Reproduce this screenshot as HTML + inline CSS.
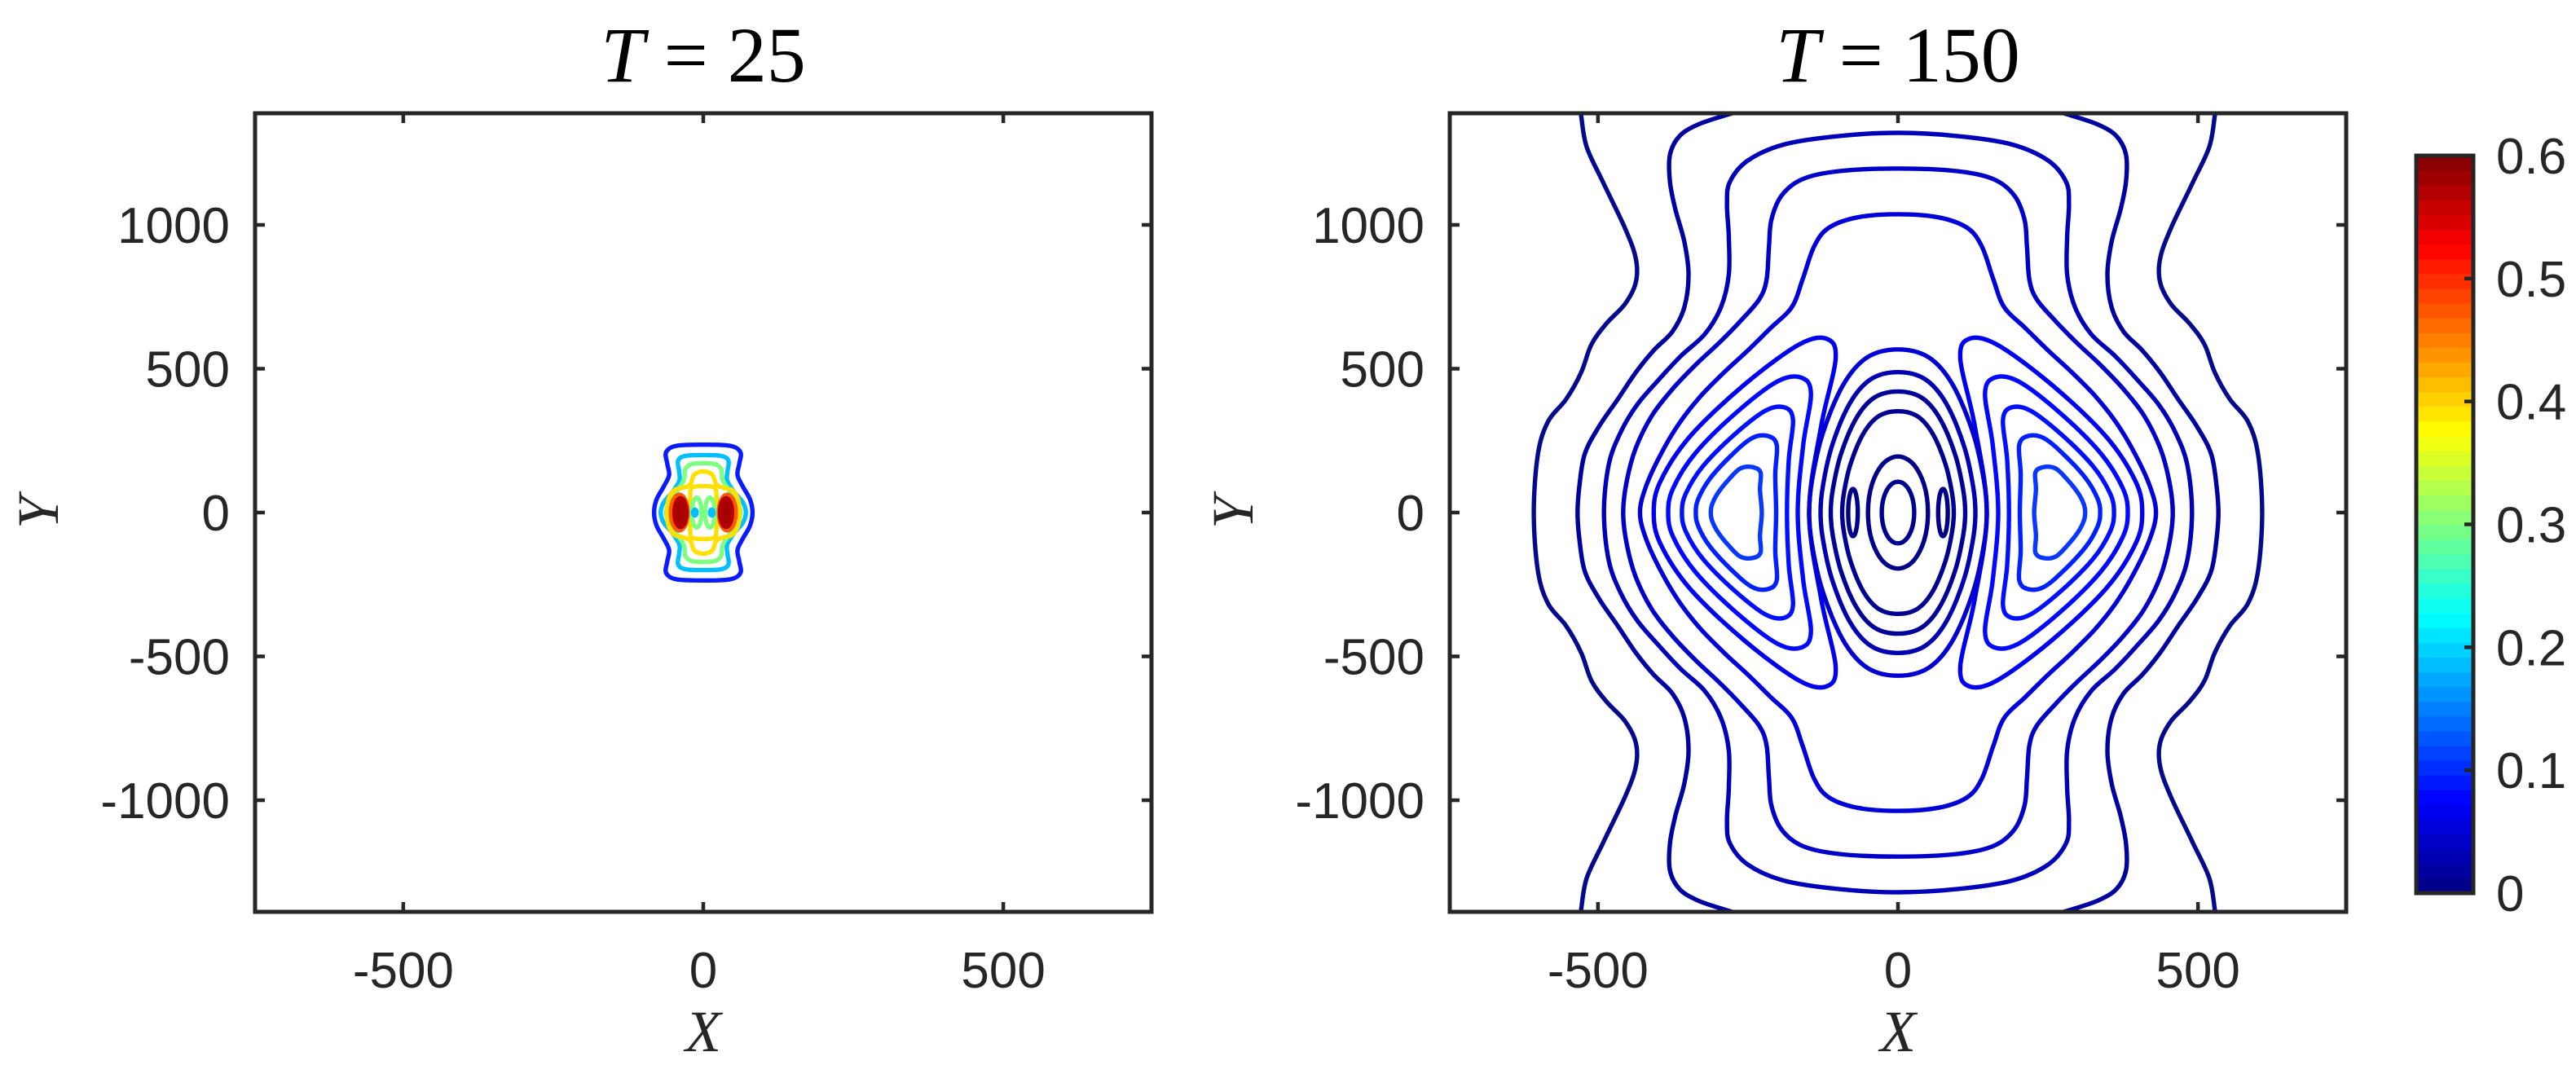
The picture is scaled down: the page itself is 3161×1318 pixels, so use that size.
<!DOCTYPE html>
<html><head><meta charset="utf-8">
<style>
html,body{margin:0;padding:0;background:#fff;}
svg{display:block;}
.tk{font-family:"Liberation Sans",sans-serif;font-size:62px;fill:#262626;}
.ttl{font-family:"Liberation Serif",serif;font-size:96px;fill:#000;}
.lab{font-family:"Liberation Serif",serif;font-size:72px;font-style:italic;fill:#262626;}
</style></head>
<body>
<svg id="fig" width="3161" height="1318" viewBox="0 0 3161 1318" xmlns="http://www.w3.org/2000/svg">
<defs>
<clipPath id="clipL"><rect x="313" y="139" width="1100" height="980"/></clipPath>
<clipPath id="clipR"><rect x="1779" y="139" width="1100" height="980"/></clipPath>
</defs>
<g id="panelL"></g>
<g id="panelR"></g>
<g id="cbar"></g>
</svg>
<script>
// ---- data ----
const xTicks = [-500, 0, 500];
const yTicks = [-1000, -500, 0, 500, 1000];
const xLim = [-747, 747];
const yLim = [-1388, 1388];
const cbTicks = [0, 0.1, 0.2, 0.3, 0.4, 0.5, 0.6];
const cbLevels = 50;
const cbMax = 0.6;

// T=25 contours (quadrant points, data units)
const l25Blue = [[0,236],[45,232],[62,210],[60,170],[57,130],[66,90],[78,45],[82,0]];
const l25Cyan = [[0,200],[30,197],[42,180],[40,140],[40,110],[52,70],[66,35],[71,0]];
const l25Green = [[0,172],[20,168],[30,150],[32,115],[42,80],[56,40],[62,0]];
const l25Yellow = [[0,143],[15,132],[21,100],[30,88],[48,78],[58,45],[60,0]];
const l25YellowInner = [[0,92],[14,90],[21,80],[22,40],[22,0]];
const l25GreenEll = [11, 8, 52];
const l25CyanDot = [14, 3, 10];
const l25Orange = [40, 14, 62];
const l25Red = [38, 10, 50];

// T=150 outer open curves
const c1 = [[530,1420],[528,1380],[519,1272],[492,1150],[455,989],[437,884],[437,799],[455,725],[486,657],[511,584],[528,487],[553,394],[583,317],[600,204],[607,0]];
const c2 = [[240,1410],[289,1380],[334,1348],[364,1309],[380,1244],[380,1150],[371,1054],[356,941],[349,827],[356,714],[376,629],[407,564],[437,487],[467,394],[498,300],[522,204],[531,91],[534,0]];
const c3 = [[0,1320],[98,1309],[189,1280],[250,1224],[280,1150],[285,1074],[282,960],[282,827],[295,714],[322,620],[362,544],[400,459],[435,374],[462,280],[482,167],[490,0]];
const c4 = [[0,1196],[98,1187],[159,1159],[194,1102],[211,1017],[215,924],[219,810],[231,742],[261,669],[297,592],[336,516],[375,431],[410,337],[437,224],[452,110],[458,0]];
const c5 = [[0,1037],[68,1026],[116,989],[140,924],[159,810],[177,714],[213,640],[250,564],[290,487],[330,402],[365,309],[395,204],[420,91],[430,0]];
const lobeInnerBottom = [148, 167, 185, 203, 227];
const lobeInnerTop = [104, 145, 175, 202, 229];
const lobeTopY = [603, 469, 365, 266, 158];
const lobeCornerX = [131, 177, 202, 231, 256];
const lobeOuterX = [407, 383, 360, 337, 312];
const centralTop = [567, 488, 421, 352, 195, 107];
const centralHalfW = [148, 129, 112, 93, 50, 27];
const smallEll = [75, 8, 82];

// ---- helpers ----
const NS = "http://www.w3.org/2000/svg";
function el(tag, attrs, parent) {
  const e = document.createElementNS(NS, tag);
  for (const k in attrs) e.setAttribute(k, attrs[k]);
  parent.appendChild(e);
  return e;
}
function mkAxes(x0) {
  const w = 1100, h = 980, y0 = 139;
  return {
    X: v => x0 + (v - xLim[0]) / (xLim[1] - xLim[0]) * w,
    Y: v => y0 + (yLim[1] - v) / (yLim[1] - yLim[0]) * h,
    x0, y0, w, h
  };
}
function crPath(pts, closed) {
  const n = pts.length;
  let d = "M" + pts[0][0].toFixed(1) + "," + pts[0][1].toFixed(1);
  const get = i => closed ? pts[(i + n) % n] : pts[Math.max(0, Math.min(n - 1, i))];
  const segs = closed ? n : n - 1;
  for (let i = 0; i < segs; i++) {
    const p0 = get(i - 1), p1 = get(i), p2 = get(i + 1), p3 = get(i + 2);
    const c1x = p1[0] + (p2[0] - p0[0]) / 6, c1y = p1[1] + (p2[1] - p0[1]) / 6;
    const c2x = p2[0] - (p3[0] - p1[0]) / 6, c2y = p2[1] - (p3[1] - p1[1]) / 6;
    d += "C" + c1x.toFixed(1) + "," + c1y.toFixed(1) + " " + c2x.toFixed(1) + "," + c2y.toFixed(1) + " " + p2[0].toFixed(1) + "," + p2[1].toFixed(1);
  }
  return d + (closed ? "Z" : "");
}
function quadLoop(q) {
  const A = q.slice();
  const B = q.slice().reverse().map(p => [p[0], -p[1]]).slice(1);
  const C = q.map(p => [-p[0], -p[1]]).slice(1);
  const D = q.slice().reverse().map(p => [-p[0], p[1]]).slice(1, -1);
  return A.concat(B, C, D);
}
function toPx(ax, pts) { return pts.map(p => [ax.X(p[0]), ax.Y(p[1])]); }
function ellPts(cx, rx, ry) {
  const out = [];
  for (let i = 0; i < 24; i++) { const a = i / 24 * 2 * Math.PI; out.push([cx + rx * Math.sin(a), ry * Math.cos(a)]); }
  return out;
}
function drawAxesFrame(g, ax, panelName) {
  const fr = el("rect", {x: ax.x0, y: ax.y0, width: ax.w, height: ax.h, fill: "none", stroke: "#262626", "stroke-width": 5}, g);
  
  
  xTicks.forEach(v => {
    const x = ax.X(v);
    el("line", {x1: x, x2: x, y1: ax.y0 + ax.h, y2: ax.y0 + ax.h - 12, stroke: "#262626", "stroke-width": 4.5}, g);
    el("line", {x1: x, x2: x, y1: ax.y0, y2: ax.y0 + 12, stroke: "#262626", "stroke-width": 4.5}, g);
    const t = el("text", {x: x, y: ax.y0 + ax.h + 93, "text-anchor": "middle", class: "tk"}, g);
    t.textContent = v;
    
    
  });
  yTicks.forEach(v => {
    const y = ax.Y(v);
    el("line", {x1: ax.x0, x2: ax.x0 + 12, y1: y, y2: y, stroke: "#262626", "stroke-width": 4.5}, g);
    el("line", {x1: ax.x0 + ax.w, x2: ax.x0 + ax.w - 12, y1: y, y2: y, stroke: "#262626", "stroke-width": 4.5}, g);
    const t = el("text", {x: ax.x0 - 31, y: y + 22, "text-anchor": "end", class: "tk"}, g);
    t.textContent = v;
    
    
  });
  const cx = ax.x0 + ax.w / 2;
  const xl = el("text", {x: cx, y: 1290, "text-anchor": "middle", class: "lab"}, g);
  xl.textContent = "X";
  
  
  const yl = el("text", {x: 0, y: 0, "text-anchor": "middle", class: "lab", transform: "translate(" + (ax.x0 - 242) + ",629) rotate(-90)"}, g);
  yl.textContent = "Y";
  
  
}
function drawTitle(g, cx, num) {
  const t = el("text", {x: cx, y: 100, "text-anchor": "middle", class: "ttl"}, g);
  
  
  const a = el("tspan", {"font-style": "italic"}, t); a.textContent = "T";
  const b = el("tspan", {}, t); b.textContent = " = " + num;
}
function stroke(g, d, color, name, fill) {
  const p = el("path", {d: d, fill: fill || "none", stroke: color, "stroke-width": 5.4, "stroke-linejoin": "round"}, g);
  
  
  return p;
}

// ---- left panel ----
const gL = document.getElementById("panelL");
const axL = mkAxes(313);
drawTitle(gL, axL.x0 + axL.w / 2, 25);
const cL = el("g", {"clip-path": "url(#clipL)"}, gL);
stroke(cL, crPath(toPx(axL, quadLoop(l25Blue)), true), "#0a1cff", "contour-0.1");
stroke(cL, crPath(toPx(axL, quadLoop(l25Cyan)), true), "#00bfff", "contour-0.2");
stroke(cL, crPath(toPx(axL, quadLoop(l25Green)), true), "#7dff80", "contour-0.3");
stroke(cL, crPath(toPx(axL, quadLoop(l25Yellow)), true), "#ffe000", "contour-0.4");
stroke(cL, crPath(toPx(axL, quadLoop(l25YellowInner)), true), "#ffe000", "contour-0.4-inner");
[-1, 1].forEach(s => {
  stroke(cL, crPath(toPx(axL, ellPts(s * l25GreenEll[0], l25GreenEll[1], l25GreenEll[2])), true), "#7dff80", "contour-0.3-core");
  stroke(cL, crPath(toPx(axL, ellPts(s * l25CyanDot[0], l25CyanDot[1], l25CyanDot[2])), true), "#00bfff", "contour-0.2-core", "#00bfff");
  stroke(cL, crPath(toPx(axL, ellPts(s * l25Orange[0], l25Orange[1], l25Orange[2])), true), "#ff5a00", "contour-0.5");
  stroke(cL, crPath(toPx(axL, ellPts(s * l25Red[0], l25Red[1], l25Red[2])), true), "#b00000", "contour-0.6", "#a80000");
});
drawAxesFrame(gL, axL, "t25");

// ---- right panel ----
const gR = document.getElementById("panelR");
const axR = mkAxes(1779);
drawTitle(gR, axR.x0 + axR.w / 2, 150);
const cR = el("g", {"clip-path": "url(#clipR)"}, gR);
[[c1, "#050a8c"], [c2, "#0000a0"]].forEach(([q, col], i) => {
  const half = q.concat(q.slice(0, -1).reverse().map(p => [p[0], -p[1]]));
  [1, -1].forEach(s => {
    stroke(cR, crPath(toPx(axR, half.map(p => [s * p[0], p[1]])), false), col, "open-contour-" + (i + 1));
  });
});
[[c3, "#0000b8"], [c4, "#0000c8"], [c5, "#0000d8"]].forEach(([q, col], i) => {
  stroke(cR, crPath(toPx(axR, quadLoop(q)), true), col, "closed-contour-" + (i + 3));
});
const lobeCols = ["#0000f0", "#0008ff", "#0010ff", "#0020ff", "#0838ff"];
for (let i = 0; i < lobeTopY.length; i++) {
  const ib = lobeInnerBottom[i], it = lobeInnerTop[i], T = lobeTopY[i], c = lobeCornerX[i], o = lobeOuterX[i];
  const upper = [[ib, 0], [(ib + it) / 2 + 2, T * 0.5], [it, T * 0.88], [(it + c) / 2, T * 1.0], [c + (o - c) * 0.12, T * 0.97],
    [c + (o - c) * 0.45, T * 0.74], [c + (o - c) * 0.78, T * 0.44], [o - (o - c) * 0.04, T * 0.18], [o, 0]];
  const loop = upper.concat(upper.slice(1, -1).reverse().map(p => [p[0], -p[1]]));
  [1, -1].forEach(s => {
    stroke(cR, crPath(toPx(axR, loop.map(p => [s * p[0], p[1]])), true), lobeCols[i], "side-lobe-contour-" + (i + 1));
  });
}
const centralCols = ["#0000d0", "#0000b0", "#000098", "#000090", "#000088", "#000090"];
for (let i = 0; i < centralTop.length; i++) {
  const T = centralTop[i], w = centralHalfW[i];
  const q = i < 4
    ? [[0, T], [0.35 * w, 0.95 * T], [0.62 * w, 0.78 * T], [0.85 * w, 0.48 * T], [0.97 * w, 0.19 * T], [w, 0]]
    : [[0, T], [0.5 * w, 0.87 * T], [0.87 * w, 0.5 * T], [w, 0]];
  stroke(cR, crPath(toPx(axR, quadLoop(q)), true), centralCols[i], "central-contour-" + (i + 1));
}
[-1, 1].forEach(s => {
  stroke(cR, crPath(toPx(axR, ellPts(s * smallEll[0], smallEll[1], smallEll[2])), true), "#000088", "small-contour");
});
drawAxesFrame(gR, axR, "t150");

// ---- colorbar ----
const gC = document.getElementById("cbar");
const cbX = 2965, cbY0 = 191, cbY1 = 1096, cbW = 70;
const cbY = v => cbY1 - v / cbMax * (cbY1 - cbY0);
function jet(t) {
  const r = Math.min(Math.max(Math.min(4 * t - 1.5, -4 * t + 4.5), 0), 1);
  const g = Math.min(Math.max(Math.min(4 * t - 0.5, -4 * t + 3.5), 0), 1);
  const b = Math.min(Math.max(Math.min(4 * t + 0.5, -4 * t + 2.5), 0), 1);
  return "rgb(" + Math.round(r * 255) + "," + Math.round(g * 255) + "," + Math.round(b * 255) + ")";
}
for (let i = 0; i < cbLevels; i++) {
  const v0 = i / cbLevels * cbMax, v1 = (i + 1) / cbLevels * cbMax;
  const r = el("rect", {x: cbX, y: cbY(v1), width: cbW, height: cbY(v0) - cbY(v1) + 0.6, fill: jet((i + 0.5) / cbLevels)}, gC);
  
  
}
const cf = el("rect", {x: cbX, y: cbY0, width: cbW, height: cbY1 - cbY0, fill: "none", stroke: "#262626", "stroke-width": 5}, gC);


cbTicks.forEach(v => {
  const y = cbY(v);
  el("line", {x1: cbX + cbW, x2: cbX + cbW - 11, y1: y, y2: y, stroke: "#262626", "stroke-width": 4.5}, gC);
  const t = el("text", {x: 3063, y: y + 22, class: "tk"}, gC);
  t.textContent = v;
  
  
});
</script>
</body></html>
